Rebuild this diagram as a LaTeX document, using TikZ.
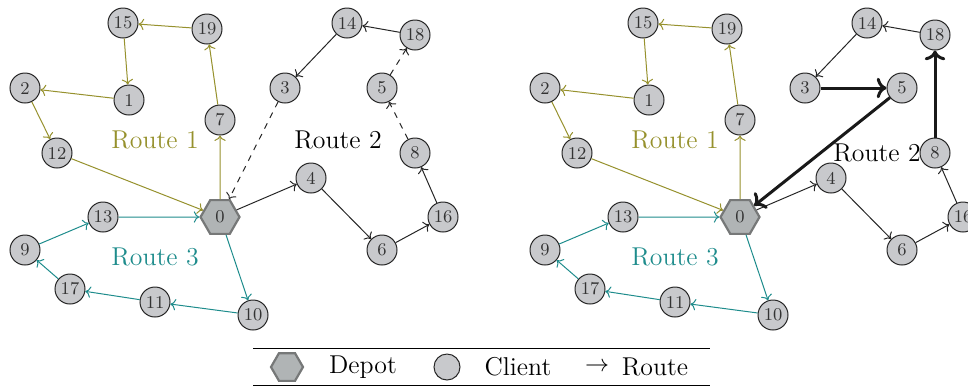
\documentclass[tikz,border=0pt]{standalone}
\usetikzlibrary{shapes.geometric,arrows.meta}
\definecolor{olivec}{RGB}{150,145,45}
\definecolor{tealc}{RGB}{30,140,140}
\definecolor{clientfill}{RGB}{200,201,204}
\definecolor{depotfill}{RGB}{176,180,181}
\definecolor{depotdraw}{RGB}{118,120,120}
\tikzset{
  client/.style={circle, draw=black!85, fill=clientfill, minimum size=15pt, inner sep=0pt, font=\small, text=black!80, line width=0.5pt},
  depot/.style={regular polygon, regular polygon sides=6, draw=depotdraw, fill=depotfill, minimum size=19.5pt, inner sep=0pt, line width=1.1pt, font=\small, text=black!80},
  rone/.style={->, olivec, line width=0.5pt},
  rtwo/.style={->, black!85, line width=0.5pt},
  rthree/.style={->, tealc, line width=0.5pt},
  rdash/.style={->, black!85, dashed, line width=0.5pt},
  rbold/.style={->, black!90, line width=1.5pt},
  lbl/.style={font=\fontsize{12.9}{15}\selectfont},
}
\begin{document}
\begin{tikzpicture}[x=0.5pt,y=-0.5pt]
\useasboundingbox (0,0) rectangle (968,387);
\foreach \p/\dx in {L/0,R/520}{
  \node[depot] (\p0) at (220+\dx,217) {0};
  \foreach \n/\x/\y in {15/123/23, 19/207/29, 1/129/100, 2/25/88, 7/220/120, 12/57/153,
      13/103/217, 9/25/250, 17/70/289, 11/155/302, 10/253/315, 4/311/178, 6/382/250,
      16/443/217, 14/347/23, 18/415/35}{
    \node[client] (\p\n) at (\x+\dx,\y) {\n};
  }
  \draw[rone] (\p0) -- (\p7);
  \draw[rone] (\p7) -- (\p19);
  \draw[rone] (\p19) -- (\p15);
  \draw[rone] (\p15) -- (\p1);
  \draw[rone] (\p1) -- (\p2);
  \draw[rone] (\p2) -- (\p12);
  \draw[rone] (\p12) -- (\p0);
  \draw[rthree] (\p0) -- (\p10);
  \draw[rthree] (\p10) -- (\p11);
  \draw[rthree] (\p11) -- (\p17);
  \draw[rthree] (\p17) -- (\p9);
  \draw[rthree] (\p9) -- (\p13);
  \draw[rthree] (\p13) -- (\p0);
  \draw[rtwo] (\p0) -- (\p4);
  \draw[rtwo] (\p4) -- (\p6);
  \draw[rtwo] (\p6) -- (\p16);
  \draw[rtwo] (\p18) -- (\p14);
  \node[lbl, text=olivec] (\p r1) at (155+\dx,140) {Route 1};
  \node[lbl, text=tealc] (\p r3) at (155+\dx,257) {Route 3};
}
% left panel specific nodes
\node[client] (L3) at (285,88) {3};
\node[client] (L5) at (382,88) {5};
\node[client] (L8) at (415,153) {8};
\node[lbl] (Lr2) at (338,140) {Route 2};
% right panel specific nodes
\node[lbl] (Rr2) at (877,153) {Route 2};
\node[client] (R3) at (805,88) {3};
\node[client] (R5) at (902,88) {5};
\node[client] (R8) at (935,153) {8};
\draw[rtwo] (L14) -- (L3);
\draw[rtwo] (L16) -- (L8);
\draw[rdash] (L8) -- (L5);
\draw[rdash] (L5) -- (L18);
\draw[rdash] (L3) -- (L0);
\draw[rtwo] (R14) -- (R3);
\draw[rtwo] (R16) -- (R8);
\draw[rbold] (R8) -- (R18);
\draw[rbold] (R3) -- (R5);
\draw[rbold] (R5) -- (R0);
% legend
\coordinate (lt1) at (253,348);
\coordinate (lt2) at (710,348);
\coordinate (lb1) at (253,385);
\coordinate (lb2) at (710,385);
\draw[line width=0.5pt] (lt1) -- (lt2);
\draw[line width=0.5pt] (lb1) -- (lb2);
\node[depot, minimum size=16pt] (legdepot) at (287,367) {};
\node[lbl] (legdepottxt) at (363,367) {Depot};
\node[client, minimum size=13pt] (legclient) at (447,367) {};
\node[lbl] (legclienttxt) at (518,367) {Client};
\node[lbl] (legarrow) at (597,367) {$\rightarrow$};
\node[lbl] (legroute) at (655,367) {Route};
\end{tikzpicture}
\end{document}
